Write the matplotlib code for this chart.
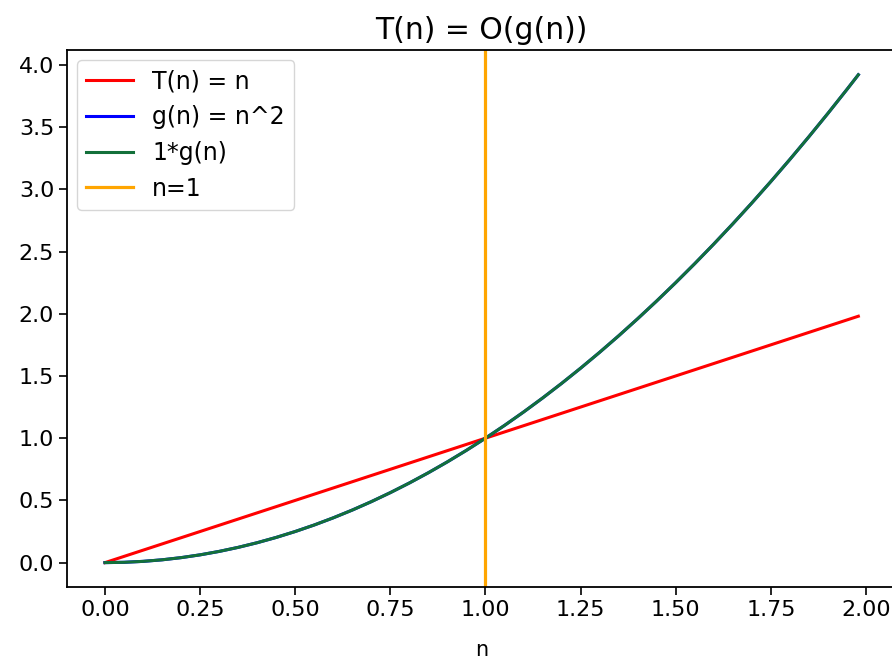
import matplotlib
matplotlib.use("Agg")
import matplotlib.pyplot as plt

# values
n_vals = [0.0, 0.05, 0.1, 0.15, 0.2, 0.25, 0.3, 0.35, 0.4, 0.45, 0.5,
          0.55, 0.6, 0.65, 0.7, 0.75, 0.8, 0.85, 0.9, 0.95, 1.0,
          1.05, 1.1, 1.15, 1.2, 1.25, 1.3, 1.35, 1.4, 1.45, 1.5,
          1.55, 1.6, 1.65, 1.7, 1.75, 1.8, 1.85, 1.9, 1.95, 1.98]
t_vals = list(n_vals)
g_vals = [0.0, 0.0025, 0.01, 0.0225, 0.04, 0.0625, 0.09, 0.1225, 0.16, 0.2025, 0.25,
          0.3025, 0.36, 0.4225, 0.49, 0.5625, 0.64, 0.7225, 0.81, 0.9025, 1.0,
          1.1025, 1.21, 1.3225, 1.44, 1.5625, 1.69, 1.8225, 1.96, 2.1025, 2.25,
          2.4025, 2.56, 2.7225, 2.89, 3.0625, 3.24, 3.4225, 3.61, 3.8025, 3.9204]
c_vals = list(g_vals)
vline_x = 1.0
x_ticks = [0.00, 0.25, 0.50, 0.75, 1.00, 1.25, 1.50, 1.75, 2.00]
y_ticks = [0.0, 0.5, 1.0, 1.5, 2.0, 2.5, 3.0, 3.5, 4.0]

fig = plt.figure(figsize=(8.92, 6.60), dpi=100)
ax = fig.add_axes([0.0755, 0.1106, 0.929, 0.813])
fs = 16
ax.plot(n_vals, t_vals, color="red", lw=2.2, label="T(n) = n")
ax.plot(n_vals, g_vals, color="blue", lw=2.2, label="g(n) = n^2")
ax.plot(n_vals, c_vals, color="#13703a", lw=2.2, label="1*g(n)")
ax.axvline(vline_x, color="orange", lw=2.3, label="n=1")
ax.set_xlim(-0.099, 2.079)
ax.set_ylim(-0.196, 4.116)
ax.set_xticks(x_ticks)
ax.set_xticklabels([f"{v:.2f}" for v in x_ticks])
ax.set_yticks(y_ticks)
ax.set_yticklabels([f"{v:.1f}" for v in y_ticks])
ax.tick_params(labelsize=fs, length=6, width=1.2)
for s in ax.spines.values():
    s.set_linewidth(1.3)
ax.set_title("T(n) = O(g(n))", fontsize=21.5, pad=8)
ax.set_xlabel("n", fontsize=15, labelpad=14)
ax.legend(loc="upper left", fontsize=17, handlelength=2.0,
          borderaxespad=0.4)
fig.savefig("out.png", dpi=100)
